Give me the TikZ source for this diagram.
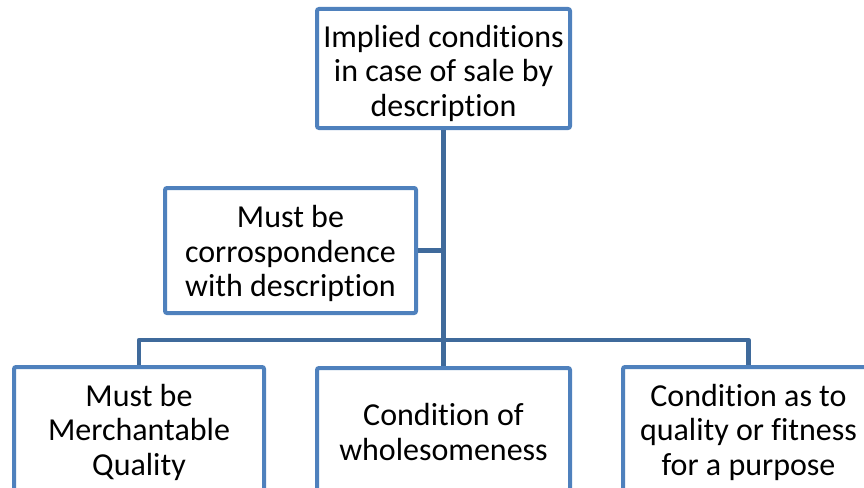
\documentclass[tikz,border=0pt]{standalone}
\usepackage{fontspec}
\setmainfont[Ligatures=NoCommon]{Carlito}
\definecolor{boxblue}{HTML}{4F81BD}
\definecolor{linkblue}{HTML}{3F6A9B}
\begin{document}
\begin{tikzpicture}[x=1pt,y=-1pt,
  box/.style={draw=boxblue, line width=4pt, fill=white, rounded corners=2pt,
    minimum width=253pt, minimum height=124pt, inner sep=0pt},
  txt/.style={inner sep=0pt, align=center, font=\fontsize{32}{34.5}\selectfont},
  link/.style={draw=linkblue, line width=4.5pt, line join=round}]
\useasboundingbox (0,0) rectangle (864,487);
\clip (0,0) rectangle (864,487);

\coordinate (trunk) at (443.5,340);
\coordinate (bl) at (139,340);
\coordinate (br) at (748.5,340);

% boxes
\node[box, minimum height=119pt] (root) at (443.5,68.5) {};
\node[box, minimum width=251pt, minimum height=125pt] (desc) at (290.5,250.5) {};
\node[box, minimum width=250pt, minimum height=126pt] (merch) at (139,430) {};
\node[box] (whole) at (443.5,430) {};
\node[box, minimum width=251pt, minimum height=126pt] (fit) at (748.5,430) {};

% box texts, set slightly below each box centre
\node[txt] (root-t) at ([yshift=-4.5pt]root.center) {Implied conditions\\in case of sale by\\description};
\node[txt] (desc-t) at ([yshift=-3pt]desc.center) {Must be\\corrospondence\\with description};
\node[txt] (merch-t) at ([yshift=-2pt]merch.center) {Must be\\Merchantable\\Quality};
\node[txt] (whole-t) at ([yshift=-2pt]whole.center) {Condition of\\wholesomeness};
\node[txt] (fit-t) at ([yshift=-2pt]fit.center) {Condition as to\\quality or fitness\\for a purpose};

% connectors: trunk from the root, one side branch, one bus to the bottom row
\draw[link] (root.south) -- (trunk);
\draw[link] (desc.east) -- (desc.east -| root.south);
\draw[link] (merch.north) -- (bl) -- (br) -- (fit.north);
\draw[link] (trunk) -- (whole.north);
\end{tikzpicture}
\end{document}
